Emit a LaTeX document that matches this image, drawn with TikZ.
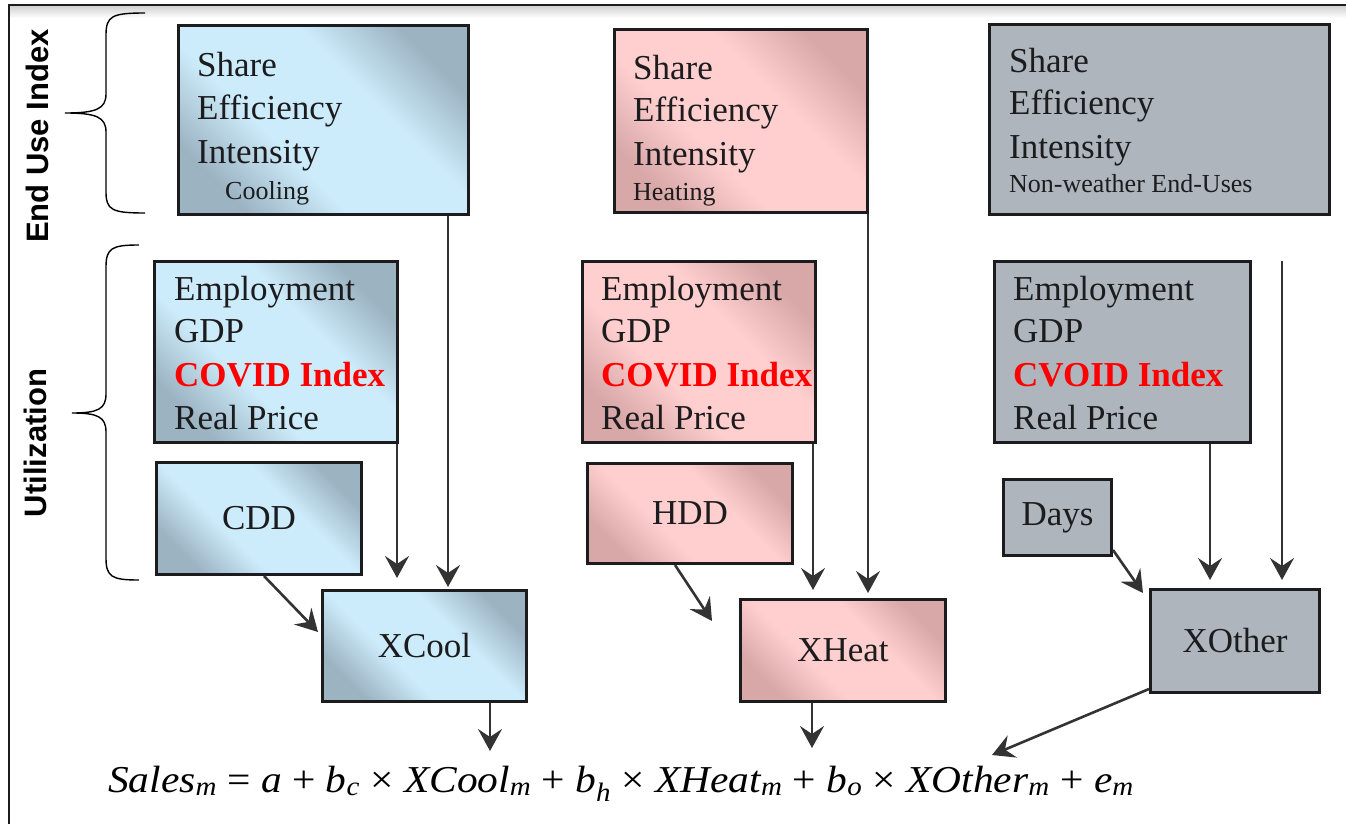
\documentclass[tikz,border=0pt]{standalone}
\usepackage{fontspec}
\setmainfont{Liberation Serif}
\newfontfamily\labsans{Liberation Sans}
\usetikzlibrary{arrows.meta}
\definecolor{bl}{RGB}{205,236,251}
\definecolor{bd}{RGB}{156,179,194}
\definecolor{pl}{RGB}{255,206,206}
\definecolor{pd}{RGB}{216,168,168}
\definecolor{gr}{RGB}{174,181,189}
\definecolor{ink}{RGB}{28,28,30}
\definecolor{arr}{RGB}{51,51,51}
\pgfdeclareverticalshading{blueshade}{100bp}{color(0bp)=(bd); color(25bp)=(bd); color(40bp)=(bl); color(60bp)=(bl); color(75bp)=(bd); color(100bp)=(bd)}
\pgfdeclareverticalshading{pinkshade}{100bp}{color(0bp)=(pd); color(25bp)=(pd); color(40bp)=(pl); color(60bp)=(pl); color(75bp)=(pd); color(100bp)=(pd)}
\newcommand{\sbm}[1]{\textsubscript{\itshape #1}}
\newcommand{\opr}[1]{\ {\upshape #1}\ }
\tikzset{
  box/.style={draw=ink, line width=3pt, inner sep=0pt, anchor=north west,
    font=\fontsize{35}{43}\selectfont, text=ink},
  cool/.style={box, shading=blueshade, shading angle=-45},
  heat/.style={box, shading=pinkshade, shading angle=-45},
  other/.style={box, fill=gr},
  big/.style={font=\fontsize{35}{43}\selectfont, text=ink, inner sep=0pt, anchor=base west},
  small/.style={font=\fontsize{26}{30}\selectfont, text=ink, inner sep=0pt, anchor=base west},
  side/.style={rotate=90, font=\labsans\bfseries\fontsize{31}{36}\selectfont, text=black, inner sep=0pt},
  conn/.style={draw=arr, line width=2.6pt, -{Stealth[length=22pt,width=24pt,inset=8pt]}},
  brace/.style={draw=black, line width=1.4pt},
  covid/.style={text=red, font=\fontsize{35}{43}\selectfont\bfseries}
}
\begin{document}
\begin{tikzpicture}[x=1pt,y=-1pt]
\useasboundingbox (0,0) rectangle (1346,824);
% frame
\shade[top color=black!18, bottom color=white] (10,6) rectangle (1346,18);
\draw[ink, line width=2pt] (9,824) -- (9,5) -- (1346,5);

% side labels
\node[side] (lblEUI) at (37,136) {End Use Index};
\node[side] (lblUtil) at (35,443) {Utilization};

% braces
\draw[brace] (145,13) .. controls (112,13) and (106,16) .. (106,35) -- (106,94)
  .. controls (106,109) and (96,113) .. (65,113)
  .. controls (96,113) and (106,117) .. (106,132) -- (106,192)
  .. controls (106,210) and (112,213) .. (145,213);
\draw[brace] (139,245) .. controls (112,245) and (106,248) .. (106,267) -- (106,394)
  .. controls (106,409) and (98,413) .. (72,413)
  .. controls (98,413) and (106,417) .. (106,432) -- (106,558)
  .. controls (106,577) and (112,580) .. (139,580);

% ---- Cooling column
\node[cool, minimum width=290pt, minimum height=189pt] (topC) at (177,24) {};
\foreach \t/\y [count=\i] in {Share/77, Efficiency/120, Intensity/163}
  \node[big] (tC\i) at (197,\y) {\t};
\node[small] (sC) at (225,199) {Cooling};
\node[cool, minimum width=243pt, minimum height=181pt] (utilC) at (153,260) {};
\node[big] (uC1) at (174,300) {Employment};
\node[big] (uC2) at (174,342) {GDP};
\node[big, covid] (uC3) at (174,386) {COVID Index};
\node[big] (uC4) at (174,429) {Real Price};
\node[cool, minimum width=205pt, minimum height=112pt] (cdd) at (155,461) {CDD};
\node[cool, minimum width=204pt, minimum height=111pt] (xcool) at (321,589) {XCool};

% ---- Heating column
\node[heat, minimum width=253pt, minimum height=183pt] (topH) at (613,28) {};
\foreach \t/\y [count=\i] in {Share/80, Efficiency/122, Intensity/165}
  \node[big] (tH\i) at (633,\y) {\t};
\node[small] (sH) at (633,200) {Heating};
\node[heat, minimum width=233pt, minimum height=181pt] (utilH) at (581,260) {};
\node[big] (uH1) at (601,300) {Employment};
\node[big] (uH2) at (601,342) {GDP};
\node[big, covid] (uH3) at (601,386) {COVID Index};
\node[big] (uH4) at (601,429) {Real Price};
\node[heat, minimum width=205pt, minimum height=100pt] (hdd) at (586,462) {HDD};
\node[heat, minimum width=205pt, minimum height=102pt] (xheat) at (739,598) {XHeat};

% ---- Other column
\node[other, minimum width=340pt, minimum height=190pt] (topO) at (988,23) {};
\foreach \t/\y [count=\i] in {Share/73, Efficiency/115, Intensity/158}
  \node[big] (tO\i) at (1009,\y) {\t};
\node[small] (sO) at (1009,192) {Non-weather End-Uses};
\node[other, minimum width=256pt, minimum height=181pt] (utilO) at (993,260) {};
\node[big] (uO1) at (1013,300) {Employment};
\node[big] (uO2) at (1013,342) {GDP};
\node[big, covid] (uO3) at (1013,386) {CVOID Index};
\node[big] (uO4) at (1013,429) {Real Price};
\node[other, minimum width=108pt, minimum height=76pt] (days) at (1002,478) {Days};
\node[other, minimum width=169pt, minimum height=103pt] (xother) at (1149,588) {XOther};

% formula
\node[inner sep=0pt, anchor=base, text=black, font=\fontsize{38}{44}\selectfont\itshape] (formula) at (621,792)
  {\scalebox{1.09}[1]{Sales\sbm{m}\opr{=}a\opr{+}b\sbm{c}\opr{×}XCool\sbm{m}\opr{+}b\sbm{h}\opr{×}XHeat\sbm{m}\opr{+}b\sbm{o}\opr{×}XOther\sbm{m}\opr{+}e\sbm{m}}};
\coordinate (oStart) at (1282,261);
\coordinate (fTip) at (992,755);

% connectors
\draw[conn, shorten >=11pt] ([xshift=-2pt]utilC.south east) -- ([xshift=-2pt]utilC.south east |- xcool.north);
\draw[conn, shorten >=2pt] ([xshift=-22pt]topC.south east) -- ([xshift=-22pt]topC.south east |- xcool.north);
\draw[conn] ([xshift=5pt]cdd.south) -- ([xshift=-3pt,yshift=-43pt]xcool.north west);
\draw[conn] ([xshift=-38pt]xcool.south east) -- ++(0,48);

\draw[conn, shorten >=8pt] ([xshift=-4pt]utilH.south east) -- ([xshift=-4pt]utilH.south east |- xheat.north);
\draw[conn, shorten >=5pt] ([xshift=-1pt]topH.south east) -- ([xshift=-1pt]topH.south east |- xheat.north);
\draw[conn] ([xshift=-15pt]hdd.south) -- ([xshift=-27pt,yshift=-23pt]xheat.north west);
\draw[conn] ([xshift=73pt]xheat.south west) -- ++(0,45);

\draw[conn, shorten >=8pt] ([xshift=-42pt]utilO.south east) -- ([xshift=-42pt]utilO.south east |- xother.north);
\draw[conn, shorten >=8pt] (oStart) -- (oStart |- xother.north);
\draw[conn] ([yshift=7pt]days.south east) -- ([xshift=-6pt,yshift=-5pt]xother.north west);
\draw[conn] ([yshift=5pt]xother.south west) -- (fTip);
\end{tikzpicture}
\end{document}
